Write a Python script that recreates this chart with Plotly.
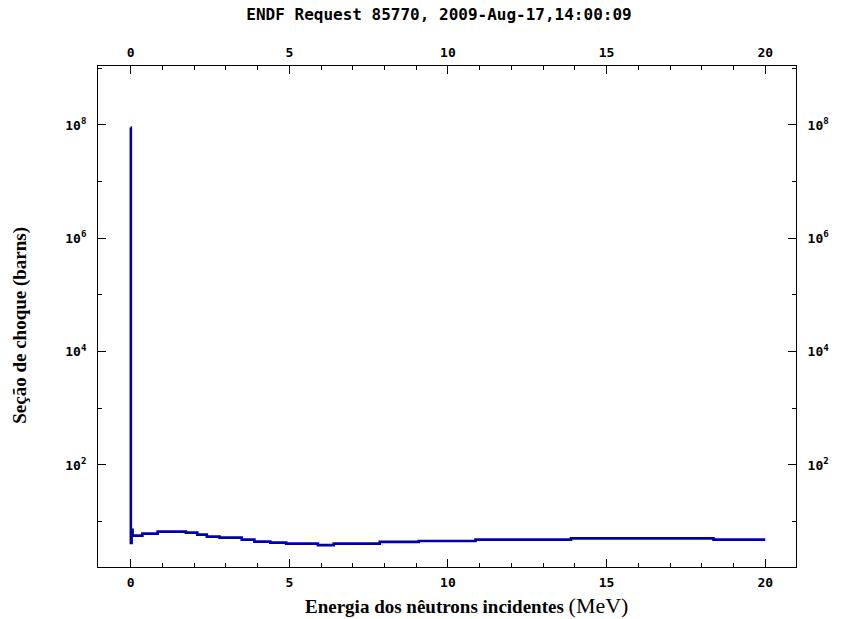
import plotly.graph_objects as go

# Cross-section steps: energy where each step starts (MeV) and its value (barns)
energy_mev = [0.0, 0.005, 0.03, 0.06, 0.37, 0.85, 1.74, 2.1, 2.4, 2.8, 3.5, 3.9,
              4.4, 4.9, 5.9, 6.4, 7.85, 9.08, 10.87, 13.88, 18.37, 20.0]
sigma_barns = [9.0e7, 4.2, 7.2, 5.66, 6.14, 6.67, 6.4, 5.9, 5.44, 5.22, 4.82, 4.44,
               4.26, 4.09, 3.85, 4.09, 4.39, 4.57, 4.82, 5.08, 4.82, 4.82]

x_ticks = [0, 5, 10, 15, 20]
y_major = [1e2, 1e4, 1e6, 1e8]
y_major_text = ["10<sup>2</sup>", "10<sup>4</sup>", "10<sup>6</sup>", "10<sup>8</sup>"]
y_minor = [1e1, 1e3, 1e5, 1e7, 1e9]

title_text = "ENDF Request 85770, 2009-Aug-17,14:00:09"
y_title = "Seção de choque (barns)"
x_title_main = "Energia dos nêutrons incidentes"
x_title_unit = "(MeV)"

W, H = 841, 619
L, R, T, B = 98, 803, 66, 567  # plot frame in pixels

def px(xp):
    return (xp - L) / (R - L)

def py(yp):
    return (B - yp) / (B - T)

line_col = "rgb(0,0,170)"
tick_font = dict(family="DejaVu Sans Mono", size=13, color="black", weight="bold")
x_range = [-1.03, 20.97]
y_range = [0.2, 9.04]

fig = go.Figure()
fig.add_trace(go.Scatter(x=energy_mev, y=sigma_barns, mode="lines",
                         line=dict(color=line_col, width=2.6, shape="hv"),
                         hoverinfo="skip", showlegend=False))
# companion trace so the top/right axes are drawn
fig.add_trace(go.Scatter(x=[energy_mev[0]], y=[sigma_barns[-1]], xaxis="x2", yaxis="y2",
                         mode="markers", marker=dict(opacity=0), hoverinfo="skip",
                         showlegend=False))

xaxis_common = dict(range=x_range, tickvals=x_ticks, ticktext=[str(v) for v in x_ticks],
                    ticks="inside", ticklen=8, tickwidth=1, tickcolor="black",
                    minor=dict(dtick=1, tick0=0, ticks="inside", ticklen=4, tickcolor="black"),
                    showgrid=False, zeroline=False, showline=True, linecolor="black",
                    linewidth=1, tickfont=tick_font, ticklabelstandoff=3)
yaxis_common = dict(type="log", range=y_range, tickvals=y_major, ticktext=y_major_text,
                    ticks="inside", ticklen=8, tickwidth=1, tickcolor="black",
                    minor=dict(tickvals=y_minor, ticks="inside", ticklen=4, tickcolor="black"),
                    showgrid=False, zeroline=False, showline=True, linecolor="black",
                    linewidth=1, tickfont=tick_font, ticklabelstandoff=8)

fig.update_layout(
    width=W, height=H,
    margin=dict(l=L, r=W - R, t=T, b=H - B, pad=0),
    paper_bgcolor="white", plot_bgcolor="white",
    xaxis=dict(**xaxis_common, side="bottom", anchor="y"),
    xaxis2=dict(**xaxis_common, side="top", overlaying="x", anchor="y"),
    yaxis=dict(**yaxis_common, side="left", anchor="x"),
    yaxis2=dict(**yaxis_common, side="right", overlaying="y", anchor="x"),
    title=dict(text=title_text, x=439 / W, xanchor="center", y=1 - 14 / H, yanchor="middle",
               font=dict(family="DejaVu Sans Mono", size=16, color="black", weight="bold")),
    annotations=[
        dict(text=y_title, textangle=-90, xref="paper", yref="paper",
             x=px(19), y=py(325), xanchor="center", yanchor="middle", showarrow=False,
             font=dict(family="Liberation Serif", size=19, color="black", weight="bold")),
        dict(text="<b>" + x_title_main + "</b> <span style='font-size:22px'>"
             + x_title_unit + "</span>", xref="paper", yref="paper",
             x=px(470), y=py(605), xanchor="center", yanchor="middle", showarrow=False,
             font=dict(family="Liberation Serif", size=19, color="black")),
        dict(text="135", xref="paper", yref="paper", x=px(812), y=py(616),
             xanchor="center", yanchor="top", showarrow=False,
             font=dict(family="Liberation Serif", size=20, color="black")),
    ],
)

fig.write_html("out.html")
